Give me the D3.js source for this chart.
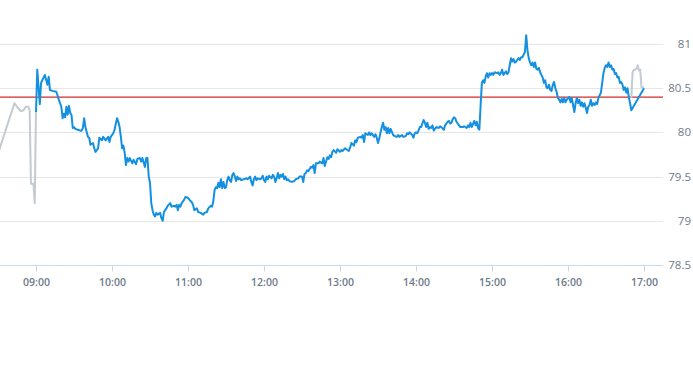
<!DOCTYPE html>
<html>
<head>
<meta charset="utf-8">
<script src="https://cdn.jsdelivr.net/npm/d3@7"></script>
<style>
  html, body { margin: 0; padding: 0; background: #fff; }
  svg { display: block; }
</style>
</head>
<body>
<svg id="chart" width="693" height="365"></svg>
<script>
// ---- data ----
const xTickLabels = ["09:00","10:00","11:00","12:00","13:00","14:00","15:00","16:00","17:00"];
const yTickValues = [78.5, 79, 79.5, 80, 80.5, 81];
const referencePrice = 80.40;

const preMarket = [["08:30",79.76],["08:43",80.33],["08:45",80.29],["08:48",80.24],["08:50",80.25],["08:52",80.29],["08:54",80.29],["08:55",80.25],["08:56",79.42],["08:58",79.42],["08:59",79.20],["09:00",80.25]];

const afterMarket = [["16:50",80.39],["16:51",80.68],["16:52",80.71],["16:53",80.71],["16:54",80.72],["16:55",80.76],["16:56",80.70],["16:57",80.71],["16:58",80.51],["17:00",80.51]];

const session = [["09:00",80.23],["09:01",80.71],["09:03",80.32],["09:04",80.56],["09:05",80.59],["09:07",80.65],["09:09",80.54],["09:10",80.63],["09:11",80.48],["09:13",80.47],["09:16",80.46],["09:17",80.42],["09:18",80.37],["09:20",80.29],["09:21",80.16],["09:22",80.21],["09:23",80.17],["09:24",80.29],["09:25",80.20],["09:26",80.30],["09:27",80.22],["09:28",80.20],["09:29",80.05],["09:30",80.06],["09:31",80.04],["09:33",80.03],["09:35",80.02],["09:36",80.02],["09:37",80.05],["09:38",80.16],["09:39",80.06],["09:41",79.95],["09:42",79.94],["09:43",79.86],["09:45",79.88],["09:46",79.82],["09:47",79.78],["09:49",79.82],["09:50",79.94],["09:52",79.91],["09:53",79.95],["09:55",79.91],["09:57",79.95],["09:58",79.89],["09:59",79.95],
["10:01",79.99],["10:02",80.03],["10:04",80.16],["10:05",80.12],["10:06",80.06],["10:07",79.95],["10:08",79.82],["10:09",79.85],["10:10",79.77],["10:11",79.63],["10:12",79.71],["10:13",79.67],["10:14",79.71],["10:16",79.65],["10:17",79.69],["10:19",79.64],["10:20",79.70],["10:22",79.71],["10:23",79.67],["10:24",79.71],["10:26",79.61],["10:27",79.71],["10:28",79.71],["10:29",79.50],["10:30",79.43],["10:31",79.20],["10:32",79.12],["10:33",79.07],["10:34",79.05],["10:35",79.09],["10:36",79.07],["10:38",79.09],["10:39",79.03],["10:40",79.00],["10:41",79.10],["10:42",79.12],["10:43",79.14],["10:44",79.17],["10:46",79.20],["10:47",79.16],["10:49",79.17],["10:50",79.16],["10:51",79.18],["10:52",79.12],["10:53",79.18],["10:54",79.16],["10:55",79.20],["10:57",79.24],["10:58",79.27],
["11:00",79.26],["11:01",79.24],["11:03",79.21],["11:04",79.18],["11:05",79.12],["11:07",79.14],["11:08",79.10],["11:10",79.09],["11:12",79.07],["11:13",79.09],["11:15",79.10],["11:16",79.14],["11:18",79.17],["11:19",79.16],["11:20",79.22],["11:21",79.35],["11:22",79.38],["11:23",79.37],["11:24",79.43],["11:25",79.38],["11:26",79.47],["11:27",79.37],["11:28",79.44],["11:29",79.37],["11:30",79.38],["11:31",79.46],["11:32",79.50],["11:33",79.46],["11:34",79.44],["11:35",79.52],["11:36",79.54],["11:37",79.50],["11:38",79.45],["11:39",79.50],["11:40",79.47],["11:41",79.48],["11:42",79.46],["11:44",79.47],["11:46",79.48],["11:47",79.47],["11:49",79.50],["11:50",79.44],["11:51",79.40],["11:52",79.47],["11:53",79.50],["11:54",79.46],["11:55",79.48],["11:57",79.47],["11:58",79.48],["11:59",79.51],
["12:00",79.46],["12:01",79.44],["12:02",79.50],["12:03",79.47],["12:04",79.51],["12:06",79.48],["12:07",79.52],["12:08",79.50],["12:09",79.44],["12:10",79.48],["12:11",79.54],["12:12",79.48],["12:13",79.52],["12:14",79.50],["12:15",79.53],["12:16",79.47],["12:17",79.50],["12:18",79.46],["12:19",79.47],["12:20",79.45],["12:22",79.44],["12:24",79.45],["12:25",79.47],["12:27",79.48],["12:28",79.50],["12:30",79.50],["12:31",79.44],["12:32",79.53],["12:33",79.54],["12:34",79.57],["12:35",79.56],["12:37",79.61],["12:38",79.60],["12:39",79.63],["12:40",79.54],["12:41",79.65],["12:43",79.65],["12:44",79.67],["12:46",79.65],["12:47",79.71],["12:48",79.62],["12:49",79.67],["12:50",79.72],["12:51",79.70],["12:52",79.74],["12:53",79.72],["12:54",79.78],["12:55",79.80],["12:57",79.77],["12:58",79.81],
["13:00",79.78],["13:01",79.80],["13:02",79.79],["13:04",79.82],["13:05",79.81],["13:07",79.79],["13:08",79.83],["13:09",79.88],["13:11",79.85],["13:12",79.91],["13:13",79.89],["13:14",79.94],["13:16",79.95],["13:17",79.94],["13:18",79.97],["13:19",79.89],["13:20",79.99],["13:22",79.97],["13:23",80.00],["13:24",79.97],["13:25",79.99],["13:27",79.95],["13:28",79.98],["13:29",79.94],["13:30",79.88],["13:31",79.93],["13:32",80.00],["13:33",80.06],["13:34",80.11],["13:35",80.03],["13:36",80.06],["13:37",79.99],["13:38",80.05],["13:39",79.99],["13:40",80.04],["13:42",79.97],["13:43",79.96],["13:45",79.95],["13:46",79.97],["13:47",79.95],["13:49",79.97],["13:50",79.95],["13:52",79.96],["13:53",79.99],["13:54",79.98],["13:55",80.00],["13:57",79.97],["13:58",79.94],["13:59",79.99],
["14:00",80.00],["14:01",79.99],["14:02",80.02],["14:03",80.06],["14:04",80.06],["14:06",80.14],["14:07",80.11],["14:08",80.06],["14:09",80.11],["14:10",80.04],["14:11",80.06],["14:12",80.05],["14:13",80.08],["14:14",80.02],["14:15",80.04],["14:16",80.06],["14:18",80.05],["14:19",80.07],["14:20",80.06],["14:22",80.03],["14:23",80.08],["14:25",80.12],["14:26",80.13],["14:27",80.10],["14:28",80.11],["14:29",80.15],["14:30",80.17],["14:31",80.16],["14:32",80.12],["14:34",80.08],["14:35",80.06],["14:37",80.06],["14:38",80.07],["14:40",80.05],["14:41",80.08],["14:42",80.06],["14:43",80.11],["14:44",80.06],["14:46",80.13],["14:47",80.08],["14:48",80.12],["14:49",80.05],["14:50",80.03],["14:51",80.30],["14:52",80.56],["14:53",80.59],["14:54",80.56],["14:55",80.63],["14:56",80.67],["14:57",80.62],["14:58",80.67],["14:59",80.65],
["15:00",80.67],["15:01",80.65],["15:02",80.68],["15:04",80.67],["15:05",80.68],["15:06",80.65],["15:07",80.67],["15:08",80.71],["15:09",80.65],["15:10",80.67],["15:11",80.69],["15:12",80.66],["15:13",80.68],["15:14",80.76],["15:15",80.84],["15:16",80.80],["15:17",80.83],["15:18",80.79],["15:19",80.80],["15:21",80.84],["15:22",80.82],["15:23",80.85],["15:24",80.85],["15:25",80.88],["15:26",80.91],["15:27",81.10],["15:28",80.93],["15:29",80.84],["15:30",80.79],["15:31",80.76],["15:32",80.79],["15:33",80.74],["15:34",80.79],["15:35",80.72],["15:36",80.71],["15:37",80.73],["15:38",80.68],["15:39",80.65],["15:40",80.62],["15:41",80.56],["15:42",80.59],["15:43",80.51],["15:44",80.50],["15:45",80.54],["15:46",80.48],["15:47",80.47],["15:48",80.54],["15:49",80.57],["15:50",80.50],["15:51",80.46],["15:52",80.39],["15:53",80.37],["15:54",80.34],["15:55",80.38],["15:56",80.34],["15:57",80.39],["15:58",80.34],["15:59",80.37],
["16:01",80.40],["16:02",80.34],["16:03",80.39],["16:04",80.31],["16:05",80.23],["16:06",80.33],["16:07",80.39],["16:08",80.33],["16:09",80.37],["16:10",80.30],["16:11",80.34],["16:12",80.29],["16:13",80.33],["16:14",80.28],["16:15",80.22],["16:16",80.29],["16:17",80.31],["16:18",80.37],["16:19",80.30],["16:20",80.33],["16:21",80.31],["16:22",80.34],["16:23",80.32],["16:24",80.39],["16:25",80.42],["16:26",80.45],["16:27",80.56],["16:28",80.67],["16:29",80.73],["16:30",80.76],["16:31",80.74],["16:32",80.79],["16:33",80.74],["16:34",80.76],["16:35",80.71],["16:36",80.72],["16:37",80.66],["16:38",80.67],["16:39",80.62],["16:40",80.63],["16:41",80.56],["16:42",80.57],["16:43",80.54],["16:44",80.48],["16:45",80.51],["16:46",80.45],["16:47",80.50],["16:48",80.40],["16:49",80.33],["16:50",80.25],["17:00",80.50]];

// ---- chart ----
const parse = d3.timeParse("%H:%M");
const svg = d3.select("#chart");
const plotLeft = 0, plotRight = 663, plotTop = 44, plotBottom = 265;

const x = d3.scaleTime()
  .domain([parse("08:30"), parse("17:15")])
  .range([-2, 663]);
const y = d3.scaleLinear()
  .domain([78.5, 81])
  .range([plotBottom, plotTop]);

svg.append("defs").append("clipPath").attr("id", "plotClip")
  .append("rect").attr("x", plotLeft).attr("y", 0).attr("width", plotRight - plotLeft).attr("height", 300);

// gridlines
svg.append("g").selectAll("line")
  .data(yTickValues.filter(v => v !== 78.5))
  .join("line")
  .attr("x1", plotLeft).attr("x2", plotRight)
  .attr("y1", d => Math.round(y(d)) + 0.5).attr("y2", d => Math.round(y(d)) + 0.5)
  .attr("stroke", "#e6e6e6").attr("stroke-width", 1);

// y labels (right side)
svg.append("g").selectAll("text")
  .data(yTickValues)
  .join("text")
  .attr("x", 691).attr("y", d => y(d) + 4)
  .attr("text-anchor", "end")
  .attr("font-family", "'Open Sans', sans-serif")
  .attr("font-size", 11.5)
  .attr("fill", "#6e7b8b")
  .text(d => d3.format("")(d));

// x axis
const xAxis = d3.axisBottom(x)
  .tickValues(xTickLabels.map(parse))
  .tickFormat(d3.timeFormat("%H:%M"))
  .tickSize(6)
  .tickSizeOuter(0);
const gx = svg.append("g").attr("transform", `translate(0,${plotBottom + 0.5})`).call(xAxis);
gx.select(".domain").remove();
gx.append("line").attr("x1", plotLeft).attr("x2", plotRight).attr("y1", 0).attr("y2", 0)
  .attr("stroke", "#ccd6eb").attr("stroke-width", 1);
gx.selectAll(".tick line").attr("stroke", "#ccd6eb");
gx.selectAll(".tick text")
  .attr("y", 13)
  .attr("font-family", "'Open Sans', sans-serif")
  .attr("font-size", 10.5)
  .attr("font-weight", 600)
  .attr("fill", "#6e7b8b");

// reference line
const refY = y(referencePrice);
svg.append("line")
  .attr("x1", plotLeft).attr("x2", plotRight)
  .attr("y1", refY).attr("y2", refY)
  .attr("stroke", "#d42a2a").attr("stroke-width", 1.2);

const line = d3.line()
  .x(d => x(parse(d[0])))
  .y(d => y(d[1]));

const lines = svg.append("g").attr("clip-path", "url(#plotClip)");
lines.append("path").datum(preMarket).attr("d", line)
  .attr("fill", "none").attr("stroke", "#c3cad2").attr("stroke-width", 2).attr("stroke-linejoin", "round");
lines.append("path").datum(afterMarket).attr("d", line)
  .attr("fill", "none").attr("stroke", "#c3cad2").attr("stroke-width", 2).attr("stroke-linejoin", "round");
lines.append("path").datum(session).attr("d", line)
  .attr("fill", "none").attr("stroke", "#1490e0").attr("stroke-width", 2).attr("stroke-linejoin", "round");
</script>
</body>
</html>
